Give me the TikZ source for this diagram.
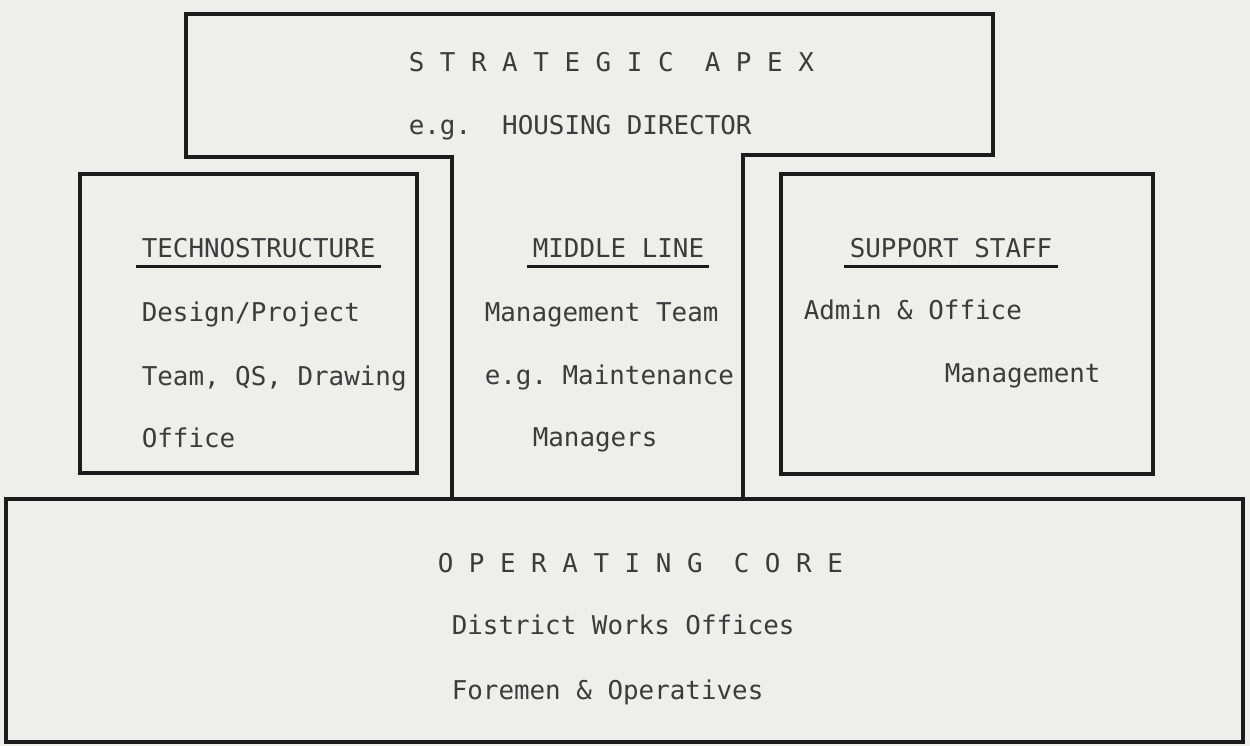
\documentclass[tikz,border=0pt]{standalone}
\usepackage{fontspec}
\setmonofont{DejaVu Sans Mono}
\definecolor{paper}{RGB}{238,238,235}
\definecolor{ink}{RGB}{60,60,60}
\definecolor{rule}{RGB}{28,28,28}
\newcommand{\typed}{\ttfamily\fontsize{7.36}{9}\selectfont\frenchspacing}
\begin{document}
\begin{tikzpicture}[x=0.01cm,y=-0.01cm,line width=1pt]
\tikzset{txt/.style={anchor=base west,inner sep=0pt,text=ink,font=\typed},
  box/.style={draw=rule,line join=miter}, uline/.style={draw=rule,line width=0.75pt}}
\path[use as bounding box,fill=paper] (0,0) rectangle (1250,746);
% boxes
\draw[box] (452,498) -- (452,157) -- (186,157) -- (186,14) -- (993,14) -- (993,155) -- (743,155) -- (743,498);
\draw[box] (80,174) rectangle (417,473);
\draw[box] (781,174) rectangle (1153,474);
\draw[box] (6,499) rectangle (1243,742);
% strategic apex
\node[txt] (apex) at (407,72) {S T R A T E G I C~~A P E X};
\node[txt] (apexeg) at (407,135) {e.g.~~HOUSING DIRECTOR};
% technostructure
\node[txt] (techhead) at (140,258) {TECHNOSTRUCTURE};
\node[txt] (tech1) at (140,322) {Design/Project};
\node[txt] (tech2) at (140,386) {Team, QS, Drawing};
\node[txt] (tech3) at (140,448) {Office};
% middle line
\node[txt] (midhead) at (531,258) {MIDDLE LINE};
\node[txt] (mid1) at (483,322) {Management Team};
\node[txt] (mid2) at (483,385) {e.g. Maintenance};
\node[txt] (mid3) at (531,447) {Managers};
% support staff
\node[txt] (supphead) at (848,258) {SUPPORT STAFF};
\node[txt] (supp1) at (802,320) {Admin \& Office};
\node[txt] (supp2) at (943,383) {Management};
% operating core
\node[txt] (core) at (436,573) {O P E R A T I N G~~C O R E};
\node[txt] (core1) at (450,635) {District Works Offices};
\node[txt] (core2) at (450,700) {Foremen \& Operatives};
\foreach \n in {techhead,midhead,supphead}
  \draw[uline] ([xshift=-1pt,yshift=-2.4pt]\n.base west) -- ([xshift=1pt,yshift=-2.4pt]\n.base east);
\end{tikzpicture}
\end{document}
